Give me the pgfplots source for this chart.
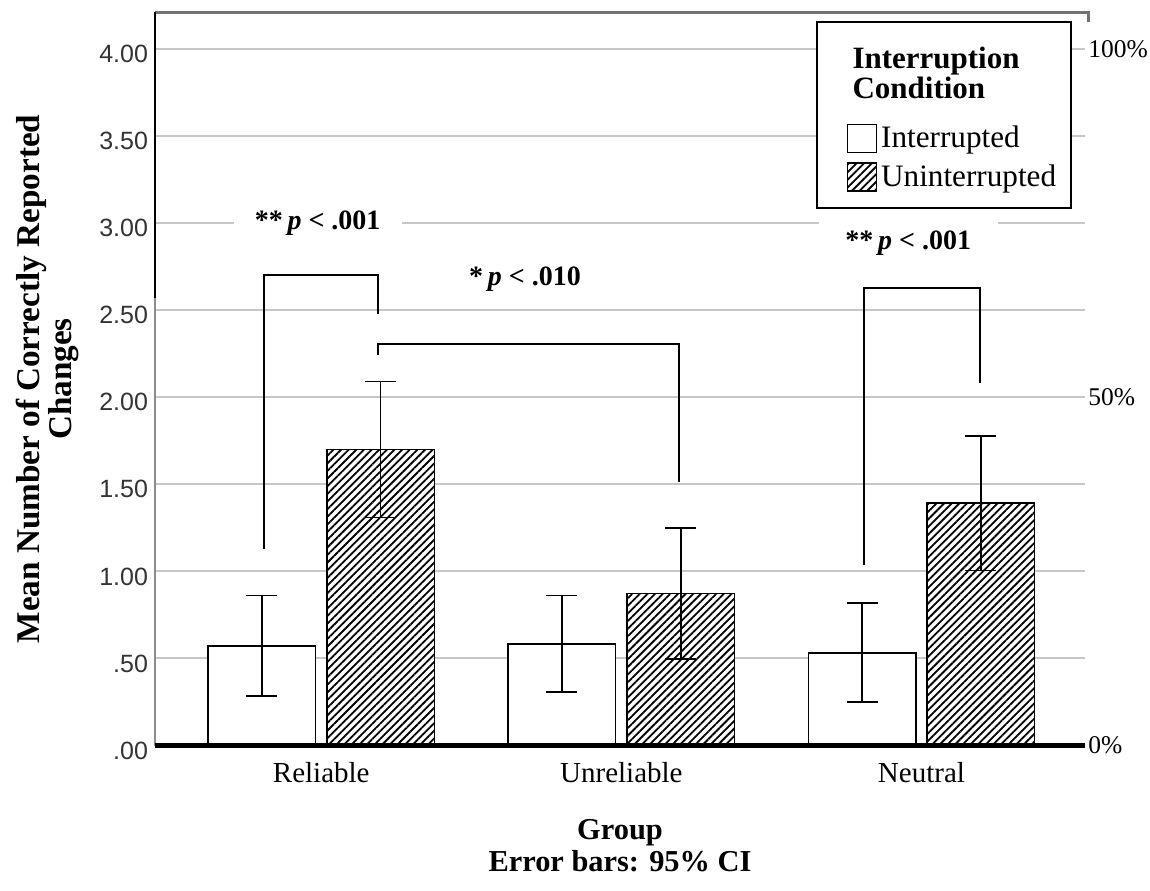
\documentclass[border=0pt]{standalone}
\usepackage{fontspec}
\setmainfont{Liberation Serif}
\newfontfamily\tickfont{Liberation Sans}
\usepackage{pgfplots}
\pgfplotsset{compat=1.18}
\usepackage{pgfplotstable}
\usetikzlibrary{patterns.meta}

% bar position (group 0,1,2 shifted by half a bar), mean, upper and lower CI half-widths
\pgfplotstableread{
x y ep em
-0.198 0.572 0.290 0.287
0.802 0.583 0.279 0.277
1.802 0.530 0.288 0.281
}\interrupted
\pgfplotstableread{
x y ep em
0.198 1.700 0.390 0.391
1.198 0.873 0.377 0.377
2.198 1.393 0.386 0.388
}\uninterrupted

\pgfplotsset{
  ebar/.style={error bars/.cd, y dir=both, y explicit,
    error bar style={line width=0.8pt, black},
    error mark options={rotate=90, line width=0.8pt, mark size=7.75pt, black}},
  swatch/.style={legend image code/.code={\draw[##1,line width=0.8pt] (0pt,-7pt) rectangle (14.5pt,7pt);}},
}

\begin{document}
\begin{tikzpicture}
\path[use as bounding box] (-77.5pt,-72.25pt) rectangle (497.5pt,372.75pt);
\begin{axis}[
  scale only axis, width=465pt, height=366.5pt,
  xmin=-0.554, xmax=2.545, ymin=0, ymax=4.21,
  clip=false,
  axis line style={draw=none},
  tick style={draw=none},
  xtick={0,1,2}, xticklabels={Reliable,Unreliable,Neutral},
  xticklabel style={font=\fontsize{14.5}{16}\selectfont, anchor=center, yshift=-13.75pt},
  ytick={0,0.5,1,1.5,2,2.5,3,3.5,4},
  yticklabels={.00,.50,1.00,1.50,2.00,2.50,3.00,3.50,4.00},
  yticklabel style={font=\tickfont\fontsize{12.5}{14}\selectfont, yshift=-2.5pt, text=black!80},
  ymajorgrids, grid style={black!22, line width=1pt},
  xlabel={Group\\Error bars: 95\% CI},
  xlabel style={align=center, font=\bfseries\fontsize{15.2}{16}\selectfont,
    at={(rel axis cs:0.5,0)}, anchor=center, yshift=-50.25pt},
  ylabel={Mean Number of Correctly Reported\\Changes},
  ylabel style={align=center, font=\bfseries\fontsize{16.6}{16}\selectfont,
    at={(rel axis cs:-0.116,0.5)}, anchor=center},
  legend style={at={(axis cs:1.749,3.583)}, anchor=north west, draw=none, fill=none,
    inner sep=0pt, row sep=3pt, font=\fontsize{15.6}{17}\selectfont,
    /tikz/every even column/.append style={column sep=3.5pt}},
  legend cell align=left,
]
\addplot[ybar, bar width=0.358, bar shift=0, draw=black, line width=0.8pt,
  fill=white, swatch, ebar]
  table[x=x, y=y, y error plus=ep, y error minus=em] {\interrupted};
\addlegendentry{Interrupted}
\addplot[ybar, bar width=0.358, bar shift=0, draw=black, line width=0.8pt,
  fill=white, postaction={pattern={Lines[angle=45,distance=2.7pt,line width=0.9pt]}},
  swatch, ebar]
  table[x=x, y=y, y error plus=ep, y error minus=em] {\uninterrupted};
\addlegendentry{Uninterrupted}

% frame
\draw[black!55, line width=1.5pt] (axis cs:-0.554,4.209) -- (axis cs:2.556,4.209) -- (axis cs:2.556,4.156);
\draw[black!45, line width=1pt] (axis cs:-0.554,0) -- (axis cs:-0.554,4.21);
\draw[black, line width=1pt] (axis cs:-0.554,2.57) -- (axis cs:-0.554,4.21);
\draw[black, line width=2.5pt] (axis cs:-0.554,0) -- (axis cs:2.545,0);

% right-hand percentages
\node[anchor=west, inner sep=0pt, xshift=1.5pt, font=\fontsize{12.75}{14}\selectfont] at (axis cs:2.545,4) {100\%};
\node[anchor=west, inner sep=0pt, xshift=1.5pt, font=\fontsize{12.75}{14}\selectfont] at (axis cs:2.545,2) {50\%};
\node[anchor=west, inner sep=0pt, xshift=1.5pt, font=\fontsize{12.75}{14}\selectfont] at (axis cs:2.545,0) {0\%};

% significance brackets
\draw[black, line width=1pt] (axis cs:-0.19,1.13) |- (axis cs:0.19,2.705) -- (axis cs:0.19,2.48);
\draw[black, line width=1pt] (axis cs:0.19,2.24) |- (axis cs:1.193,2.307) -- (axis cs:1.193,1.515);
\draw[black, line width=1pt] (axis cs:1.809,1.035) |- (axis cs:2.196,2.625) -- (axis cs:2.196,2.08);
\node[fill=white, minimum width=84pt, minimum height=16pt, inner sep=0pt,
  font=\bfseries\fontsize{14}{16}\selectfont] at (axis cs:-0.012,3.0) {**\,\textit{p} < .001};
\node[inner sep=0pt, font=\bfseries\fontsize{14}{16}\selectfont] at (axis cs:0.679,2.678) {*\,\textit{p} < .010};
\node[fill=white, minimum width=89.5pt, minimum height=24pt, inner sep=0pt,
  font=\bfseries\fontsize{14}{16}\selectfont] at (axis cs:1.956,2.885) {**\,\textit{p} < .001};

% legend box and title
\draw[black, line width=1pt, fill=white] (axis cs:1.653,4.156) rectangle (axis cs:2.499,3.085);
\node[anchor=north west, align=left, inner sep=0pt, font=\bfseries\fontsize{15.5}{15}\selectfont]
  at (axis cs:1.769,4.013) {Interruption\\Condition};
\end{axis}
\end{tikzpicture}
\end{document}
